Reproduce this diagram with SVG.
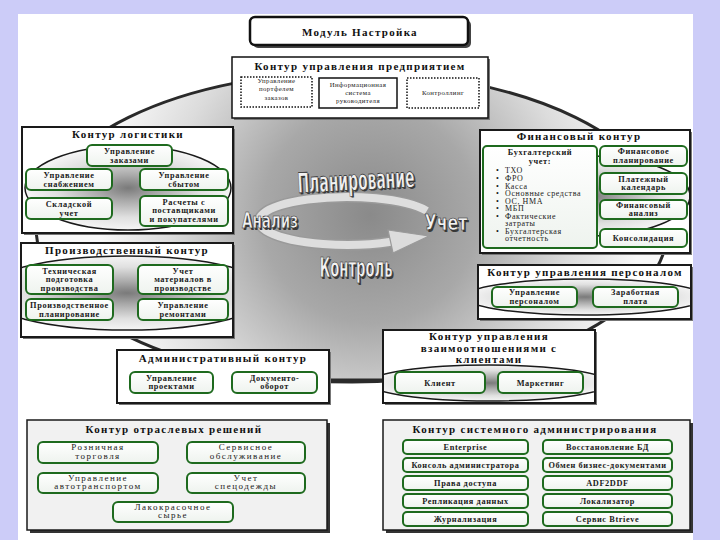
<svg xmlns="http://www.w3.org/2000/svg" width="720" height="540" viewBox="0 0 720 540">
<defs>
<style>
.t{font-family:"Liberation Serif",serif;font-weight:bold;font-size:11px;letter-spacing:1.3px;text-anchor:middle;fill:#111}
.s{font-family:"Liberation Serif",serif;font-weight:bold;font-size:8.3px;letter-spacing:0.6px;text-anchor:middle;fill:#1a1a1a}
.r{font-family:"Liberation Serif",serif;font-size:9px;letter-spacing:1.5px;text-anchor:middle;fill:#1a1a1a}
.e{font-family:"Liberation Serif",serif;font-size:6.8px;letter-spacing:0.4px;text-anchor:middle;fill:#222}
.l{font-family:"Liberation Serif",serif;font-size:8px;letter-spacing:0.6px;fill:#1a1a1a}
.mb{fill:#fff;stroke:#1a1a1a;stroke-width:2}
.gb{fill:#f1f1f1;stroke:#1a1a1a;stroke-width:1.5}
.sh{fill:#777}
.shd{fill:#333}
.sb{fill:url(#wg);stroke:#1e6a1e;stroke-width:2}
.lens{fill:url(#lg);stroke:#1a1a1a;stroke-width:1.5}
.dot{fill:#fff;stroke:#111;stroke-width:1.5;stroke-dasharray:1.5 1.5}
.big{font-family:"DejaVu Sans",sans-serif;font-weight:bold;fill:#f2f2f2;stroke:#222;stroke-width:0.7;text-anchor:middle}
.bigs{font-family:"DejaVu Sans",sans-serif;font-weight:bold;fill:#3a3a3a;text-anchor:middle}
</style>
<radialGradient id="bg" gradientUnits="userSpaceOnUse" cx="370" cy="215" r="270">
<stop offset="0" stop-color="#8a8a8a"/>
<stop offset="0.4" stop-color="#a8a8a8"/>
<stop offset="0.75" stop-color="#dcdcdc"/>
<stop offset="1" stop-color="#f8f8f8"/>
</radialGradient>
<radialGradient id="lg" cx="0.5" cy="0.5" r="0.5">
<stop offset="0" stop-color="#7a7a7a"/>
<stop offset="0.3" stop-color="#a9a9a9"/>
<stop offset="0.7" stop-color="#e0e0e0"/>
<stop offset="1" stop-color="#f5f5f5"/>
</radialGradient>
<linearGradient id="wg" x1="0" y1="0" x2="0" y2="1">
<stop offset="0" stop-color="#ffffff"/>
<stop offset="1" stop-color="#eef3ee"/>
</linearGradient>
<clipPath id="cLog"><rect x="23" y="128" width="209" height="104"/></clipPath>
<clipPath id="cPro"><rect x="22" y="244" width="210" height="92"/></clipPath>
<clipPath id="cFin"><rect x="481" y="131" width="208" height="121"/></clipPath>
<clipPath id="cPer"><rect x="479" y="266" width="211" height="52"/></clipPath>
<clipPath id="cCli"><rect x="384" y="331" width="210" height="71"/></clipPath>
</defs>

<rect x="0" y="0" width="720" height="540" fill="#ccccf8"/>
<rect x="18" y="14" width="675" height="526" fill="#fff"/>

<g id="connectors">
<ellipse cx="352" cy="227" rx="316" ry="155" fill="url(#bg)" stroke="#2a2a2a" stroke-width="3"/>
<line x1="330" y1="380" x2="383" y2="380" stroke="#2a2a2a" stroke-width="3"/>
</g>

<g id="cycle">
<path d="M426.8,210.9 A88,24 0 1 0 391,241.8" fill="none" stroke="#9a9a9a" stroke-width="11"/>
<path d="M426.8,210.9 A88,24 0 1 0 391,241.8" fill="none" stroke="#dedede" stroke-width="8"/>
<polygon points="388,230 429,236 393,253" fill="#dcdcdc" stroke="#9a9a9a" stroke-width="1.2"/>
<text class="bigs" x="357.5" y="191.5" font-size="28" textLength="117" lengthAdjust="spacingAndGlyphs" transform="rotate(-3 356 182)">Планирование</text>
<text class="big" x="356" y="190" font-size="28" textLength="117" lengthAdjust="spacingAndGlyphs" transform="rotate(-3 356 182)">Планирование</text>
<text class="bigs" x="271.5" y="229.5" font-size="22" textLength="56" lengthAdjust="spacingAndGlyphs">Анализ</text>
<text class="big" x="270" y="228" font-size="22" textLength="56" lengthAdjust="spacingAndGlyphs">Анализ</text>
<text class="bigs" x="447.5" y="231.5" font-size="22" textLength="43" lengthAdjust="spacingAndGlyphs">Учет</text>
<text class="big" x="446" y="230" font-size="22" textLength="43" lengthAdjust="spacingAndGlyphs">Учет</text>
<text class="bigs" x="357.5" y="278.5" font-size="26" textLength="73" lengthAdjust="spacingAndGlyphs">Контроль</text>
<text class="big" x="356" y="277" font-size="26" textLength="73" lengthAdjust="spacingAndGlyphs">Контроль</text>
</g>

<g id="module">
<rect x="253" y="20" width="218" height="28" rx="5" fill="#444"/>
<rect x="250" y="17" width="218" height="28" rx="5" fill="#fff" stroke="#111" stroke-width="2.5"/>
<text class="t" x="360" y="36" font-size="12">Модуль Настройка</text>
</g>

<g id="enterprise">
<rect x="234" y="59" width="256" height="61" class="sh"/>
<rect x="232" y="57" width="256" height="61" fill="#fff" stroke="#111" stroke-width="1.5"/>
<text class="t" x="360" y="70">Контур управления предприятием</text>
<rect class="dot" x="241" y="77" width="71" height="30"/>
<text class="e" x="276.5" y="83">Управление</text>
<text class="e" x="276.5" y="91">портфелем</text>
<text class="e" x="276.5" y="100">заказов</text>
<rect x="319" y="78" width="78" height="30" fill="#fff" stroke="#111" stroke-width="1.5"/>
<text class="e" x="358" y="87">Информационная</text>
<text class="e" x="358" y="95">система</text>
<text class="e" x="358" y="103">руководителя</text>
<rect class="dot" x="407" y="78" width="72" height="30"/>
<text class="e" x="443" y="95">Контроллинг</text>
</g>

<g id="logistics">
<rect class="sh" x="24" y="129" width="211" height="106"/>
<rect class="mb" x="22" y="127" width="211" height="106"/>
<ellipse class="lens" cx="128" cy="188" rx="103" ry="42" clip-path="url(#cLog)"/>
<text class="t" x="128" y="138">Контур логистики</text>
<rect class="sb" x="87" y="145" width="85" height="21" rx="5"/>
<text class="s" x="129.5" y="154">Управление</text>
<text class="s" x="129.5" y="162.5">заказами</text>
<rect class="sb" x="26" y="169" width="86" height="21" rx="5"/>
<text class="s" x="69" y="178">Управление</text>
<text class="s" x="69" y="186.5">снабжением</text>
<rect class="sb" x="140" y="169" width="88" height="21" rx="5"/>
<text class="s" x="184" y="178">Управление</text>
<text class="s" x="184" y="186.5">сбытом</text>
<rect class="sb" x="26" y="198" width="86" height="21" rx="5"/>
<text class="s" x="69" y="207">Складской</text>
<text class="s" x="69" y="215.5">учет</text>
<rect class="sb" x="140" y="196" width="88" height="30" rx="5"/>
<text class="s" x="184" y="204.5">Расчеты с</text>
<text class="s" x="184" y="213">поставщиками</text>
<text class="s" x="184" y="221.5">и покупателями</text>
</g>

<g id="production">
<rect class="sh" x="23" y="245" width="212" height="94"/>
<rect class="mb" x="21" y="243" width="212" height="94"/>
<ellipse class="lens" cx="127" cy="293" rx="145" ry="37" clip-path="url(#cPro)"/>
<text class="t" x="127" y="254">Производственный контур</text>
<rect class="sb" x="26" y="265" width="87" height="29" rx="5"/>
<text class="s" x="69.5" y="273.5">Техническая</text>
<text class="s" x="69.5" y="282">подготовка</text>
<text class="s" x="69.5" y="290.5">производства</text>
<rect class="sb" x="138" y="265" width="90" height="29" rx="5"/>
<text class="s" x="183" y="273.5">Учет</text>
<text class="s" x="183" y="282">материалов в</text>
<text class="s" x="183" y="290.5">производстве</text>
<rect class="sb" x="26" y="299" width="87" height="21" rx="5"/>
<text class="s" x="69.5" y="308">Производственное</text>
<text class="s" x="69.5" y="316.5">планирование</text>
<rect class="sb" x="138" y="299" width="90" height="21" rx="5"/>
<text class="s" x="183" y="308">Управление</text>
<text class="s" x="183" y="316.5">ремонтами</text>
</g>

<g id="finance">
<rect class="sh" x="482" y="132" width="210" height="123"/>
<rect class="mb" x="480" y="130" width="210" height="123"/>
<ellipse class="lens" cx="590" cy="196" rx="100" ry="40" clip-path="url(#cFin)"/>
<text class="t" x="579" y="140">Финансовый контур</text>
<rect class="sb" x="483" y="146" width="114" height="102" rx="4"/>
<text class="s" x="540" y="155">Бухгалтерский</text>
<text class="s" x="540" y="163.5">учет:</text>
<g class="l">
<text x="496" y="173">•</text><text x="505" y="173">ТХО</text>
<text x="496" y="181">•</text><text x="505" y="181">ФРО</text>
<text x="496" y="188.5">•</text><text x="505" y="188.5">Касса</text>
<text x="496" y="196">•</text><text x="505" y="196">Основные средства</text>
<text x="496" y="203.5">•</text><text x="505" y="203.5">ОС, НМА</text>
<text x="496" y="211">•</text><text x="505" y="211">МБП</text>
<text x="496" y="218.5">•</text><text x="505" y="218.5">Фактические</text>
<text x="505" y="226">затраты</text>
<text x="496" y="233.5">•</text><text x="505" y="233.5">Бухгалтерская</text>
<text x="505" y="241">отчетность</text>
</g>
<rect class="sb" x="600" y="146" width="87" height="20" rx="5"/>
<text class="s" x="643.5" y="154">Финансовое</text>
<text class="s" x="643.5" y="162.5">планирование</text>
<rect class="sb" x="600" y="173" width="87" height="21" rx="5"/>
<text class="s" x="643.5" y="181.5">Платежный</text>
<text class="s" x="643.5" y="190">календарь</text>
<rect class="sb" x="600" y="200" width="87" height="19" rx="5"/>
<text class="s" x="643.5" y="207.5">Финансовый</text>
<text class="s" x="643.5" y="216">анализ</text>
<rect class="sb" x="600" y="229" width="87" height="18" rx="5"/>
<text class="s" x="643.5" y="240.5">Консолидация</text>
</g>

<g id="personnel">
<rect class="sh" x="480" y="267" width="213" height="54"/>
<rect class="mb" x="478" y="265" width="213" height="54"/>
<ellipse class="lens" cx="585" cy="297" rx="120" ry="18" clip-path="url(#cPer)"/>
<text class="t" x="585" y="276">Контур управления персоналом</text>
<rect class="sb" x="492" y="287" width="85" height="20" rx="5"/>
<text class="s" x="534.5" y="295">Управление</text>
<text class="s" x="534.5" y="303.5">персоналом</text>
<rect class="sb" x="593" y="287" width="85" height="20" rx="5"/>
<text class="s" x="635.5" y="295">Заработная</text>
<text class="s" x="635.5" y="303.5">плата</text>
</g>

<g id="admin">
<rect class="sh" x="119" y="352" width="212" height="53"/>
<rect class="mb" x="117" y="350" width="212" height="53"/>
<text class="t" x="223" y="362">Административный контур</text>
<rect class="sb" x="130" y="372" width="83" height="21" rx="5"/>
<text class="s" x="171.5" y="380.5">Управление</text>
<text class="s" x="171.5" y="389">проектами</text>
<rect class="sb" x="232" y="372" width="85" height="21" rx="5"/>
<text class="s" x="274.5" y="380.5">Документо-</text>
<text class="s" x="274.5" y="389">оборот</text>
</g>

<g id="clients">
<rect class="sh" x="385" y="332" width="212" height="73"/>
<rect class="mb" x="383" y="330" width="212" height="73"/>
<ellipse class="lens" cx="489" cy="383" rx="120" ry="18" clip-path="url(#cCli)"/>
<text class="t" x="489" y="340">Контур управления</text>
<text class="t" x="489" y="352">взаимоотношениями с</text>
<text class="t" x="489" y="363">клиентами</text>
<rect class="sb" x="395" y="372" width="90" height="21" rx="5"/>
<text class="s" x="440" y="386">Клиент</text>
<rect class="sb" x="498" y="372" width="85" height="21" rx="5"/>
<text class="s" x="540.5" y="386">Маркетинг</text>
</g>

<g id="industry">
<rect class="shd" x="30" y="423" width="300" height="110"/>
<rect class="gb" x="27" y="420" width="300" height="110"/>
<text class="t" x="174" y="433">Контур отраслевых решений</text>
<rect class="sb" x="38" y="442" width="120" height="21" rx="5"/>
<text class="r" x="98" y="450">Розничная</text>
<text class="r" x="98" y="458.5">торговля</text>
<rect class="sb" x="187" y="442" width="118" height="21" rx="5"/>
<text class="r" x="246" y="450">Сервисное</text>
<text class="r" x="246" y="458.5">обслуживание</text>
<rect class="sb" x="38" y="473" width="120" height="20" rx="5"/>
<text class="r" x="98" y="480.5">Управление</text>
<text class="r" x="98" y="489">автотранспортом</text>
<rect class="sb" x="187" y="473" width="118" height="20" rx="5"/>
<text class="r" x="246" y="480.5">Учет</text>
<text class="r" x="246" y="489">спецодежды</text>
<rect class="sb" x="113" y="502" width="120" height="20" rx="5"/>
<text class="r" x="173" y="509.5">Лакокрасочное</text>
<text class="r" x="173" y="518">сырье</text>
</g>

<g id="sysadmin">
<rect class="shd" x="386" y="423" width="307" height="110"/>
<rect class="gb" x="383" y="420" width="307" height="110"/>
<text class="t" x="535" y="433">Контур системного администрирования</text>
<rect class="sb" x="403" y="440" width="125" height="14" rx="4"/>
<text class="s" x="465.5" y="450">Enterprise</text>
<rect class="sb" x="543" y="440" width="129" height="14" rx="4"/>
<text class="s" x="607.5" y="450">Восстановление БД</text>
<rect class="sb" x="403" y="458" width="125" height="14" rx="4"/>
<text class="s" x="465.5" y="468">Консоль администратора</text>
<rect class="sb" x="543" y="458" width="129" height="14" rx="4"/>
<text class="s" x="607.5" y="468">Обмен бизнес-документами</text>
<rect class="sb" x="403" y="476" width="125" height="14" rx="4"/>
<text class="s" x="465.5" y="486">Права доступа</text>
<rect class="sb" x="543" y="476" width="129" height="14" rx="4"/>
<text class="s" x="607.5" y="486">ADF2DDF</text>
<rect class="sb" x="403" y="494" width="125" height="14" rx="4"/>
<text class="s" x="465.5" y="504">Репликация данных</text>
<rect class="sb" x="543" y="494" width="129" height="14" rx="4"/>
<text class="s" x="607.5" y="504">Локализатор</text>
<rect class="sb" x="403" y="512" width="125" height="14" rx="4"/>
<text class="s" x="465.5" y="522">Журнализация</text>
<rect class="sb" x="543" y="512" width="129" height="14" rx="4"/>
<text class="s" x="607.5" y="522">Сервис Btrieve</text>
</g>
</svg>
